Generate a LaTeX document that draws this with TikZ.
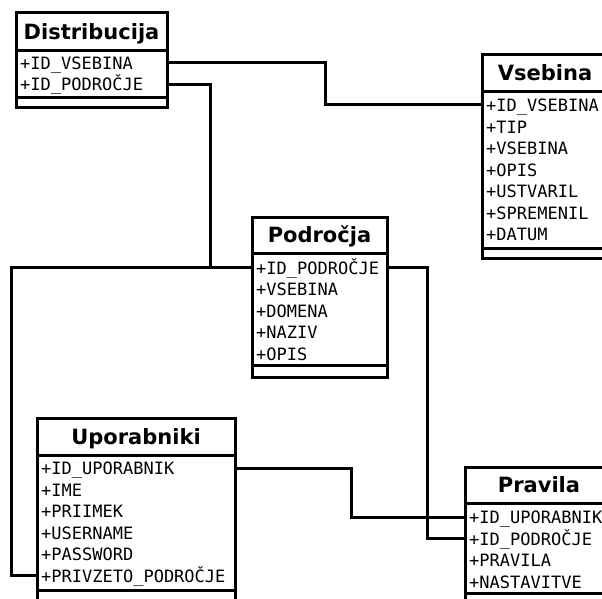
\documentclass[tikz,border=0pt]{standalone}
\usepackage{fontspec}
\setmainfont{DejaVu Sans}
\newfontfamily\attrmono{DejaVu Sans Mono}
\usetikzlibrary{positioning}
\tikzset{
  frame/.style={draw=black, line width=3pt},
  clsname/.style={font=\fontsize{21}{25}\selectfont\bfseries, inner sep=0pt,
    text height=15pt, text depth=0pt},
  attr/.style={anchor=west, font=\attrmono\fontsize{17}{20}\selectfont,
    inner xsep=4pt, inner ysep=0pt, text height=13pt, text depth=0pt,
    text width=#1, align=left},
  link/.style={draw=black, line width=3pt},
}

\begin{document}
\begin{tikzpicture}[x=1pt, y=-1pt]
  \useasboundingbox (0,0) rectangle (602,599);
  \clip (0,0) rectangle (602,599);

  % Distribucija
  \draw[frame] (16,13) rectangle (167,108);
  \draw[frame] (16,51) -- (167,51) (16,97.5) -- (167,97.5);
  \node[clsname] (dist) at (91.5,32) {Distribucija};
  \foreach \t [count=\i] in {+ID\_VSEBINA, +ID\_PODROČJE}
    \node[attr=143pt] (dist\i) at (16,41.5+21.5*\i) {\t};

  % Vsebina
  \draw[frame] (482,55) rectangle (608,258);
  \draw[frame] (482,92) -- (608,92) (482,248) -- (608,248);
  \node[clsname] (vseb) at (545,73.5) {Vsebina};
  \foreach \t [count=\i] in {+ID\_VSEBINA, +TIP, +VSEBINA, +OPIS, +USTVARIL,
      +SPREMENIL, +DATUM}
    \node[attr=118pt] (vseb\i) at (482,83.5+21.5*\i) {\t};

  % Področja
  \draw[frame] (252,217) rectangle (387,377);
  \draw[frame] (252,253) -- (387,253) (252,365.5) -- (387,365.5);
  \node[clsname] (podr) at (319.5,235) {Področja};
  \foreach \t [count=\i] in {+ID\_PODROČJE, +VSEBINA, +DOMENA, +NAZIV, +OPIS}
    \node[attr=127pt] (podr\i) at (252,246+21.5*\i) {\t};

  % Uporabniki
  \draw[frame] (37,418) rectangle (235,601);
  \draw[frame] (37,455) -- (235,455) (37,590) -- (235,590);
  \node[clsname] (upor) at (136,436.5) {Uporabniki};
  \foreach \t [count=\i] in {+ID\_UPORABNIK, +IME, +PRIIMEK, +USERNAME,
      +PASSWORD, +PRIVZETO\_PODROČJE}
    \node[attr=190pt] (upor\i) at (37,446.5+21.5*\i) {\t};

  % Pravila
  \draw[frame] (465,467) rectangle (613,604);
  \draw[frame] (465,503) -- (613,503) (465,593) -- (613,593);
  \node[clsname] (prav) at (539,485) {Pravila};
  \foreach \t [count=\i] in {+ID\_UPORABNIK, +ID\_PODROČJE, +PRAVILA,
      +NASTAVITVE}
    \node[attr=140pt] (prav\i) at (465,495.5+21.5*\i) {\t};

  % povezave
  \coordinate (c1) at (325,0);
  \coordinate (c2) at (210,0);
  \coordinate (c3) at (11,0);
  \coordinate (c4) at (427,0);
  \coordinate (c5) at (351,0);
  \draw[link] (dist1.east) -- (dist1.east -| c1) -- (vseb1.west -| c1) -- (vseb1.west);
  \draw[link] (dist2.east) -- (dist2.east -| c2) -- (podr1.west -| c2) -- (podr1.west);
  \draw[link] (upor6.west) -- (upor6.west -| c3) -- (podr1.west -| c3) -- (podr1.west);
  \draw[link] (podr1.east) -- (podr1.east -| c4) -- (prav2.west -| c4) -- (prav2.west);
  \draw[link] (upor1.east) -- (upor1.east -| c5) -- (prav1.west -| c5) -- (prav1.west);
\end{tikzpicture}
\end{document}
